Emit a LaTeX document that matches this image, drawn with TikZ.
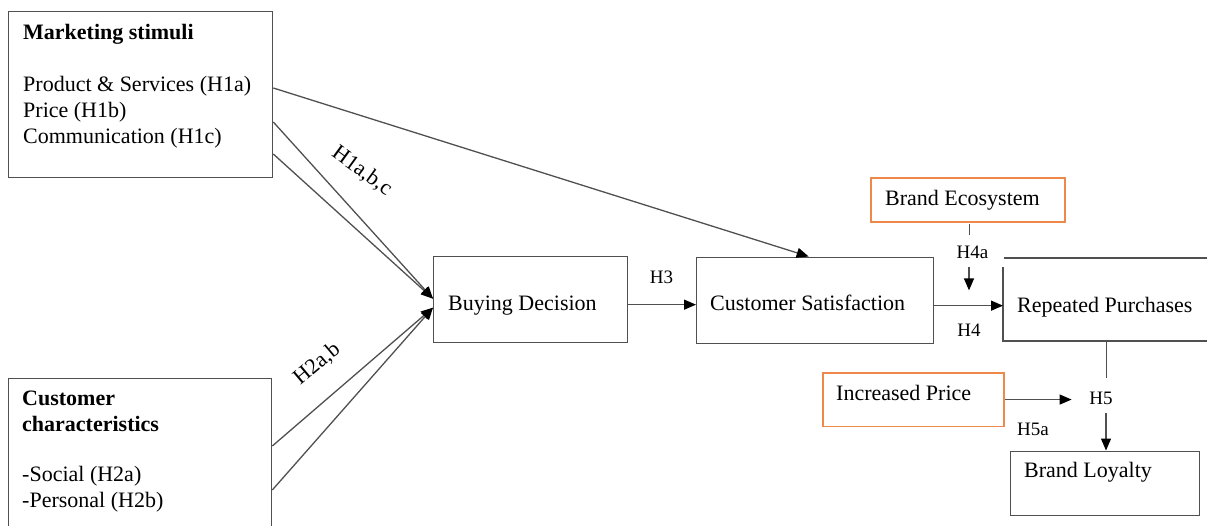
\documentclass[tikz,border=0pt]{standalone}
\usepackage{fontspec}
\setmainfont{Liberation Serif}
\usetikzlibrary{arrows.meta,calc}
\definecolor{edge}{RGB}{80,80,80}
\definecolor{hl}{RGB}{237,137,74}
\begin{document}
\begin{tikzpicture}[x=1pt,y=-1pt,
  box/.style={draw=edge, line width=1.3pt, rectangle, inner sep=0pt, anchor=north west},
  obox/.style={box, draw=hl, line width=1.6pt},
  txt/.style={inner sep=0pt, anchor=base west, font=\fontsize{22}{26}\selectfont, align=left},
  hyp/.style={inner sep=0pt, anchor=base, font=\fontsize{19}{22}\selectfont},
  rot/.style={inner sep=0pt, anchor=center, font=\fontsize{22}{26}\selectfont},
  conn/.style={draw=edge, line width=1.3pt},
  arr/.style={conn, -{Triangle[length=12pt,width=10pt,color=black]}},
]
\useasboundingbox (0,0) rectangle (1207,525);

% boxes
\node[box, minimum width=264pt, minimum height=166pt] (ms) at (8,11) {};
\node[box, minimum width=263pt, minimum height=170pt] (cc) at (8,378) {};
\node[box, minimum width=194pt, minimum height=86pt] (bd) at (433,256) {};
\node[box, minimum width=237pt, minimum height=86pt] (cs) at (696,256.5) {};
\node[inner sep=0pt, minimum width=210pt, minimum height=82.5pt, anchor=north west] (rp) at (1003,258) {};
\node[obox, minimum width=194pt, minimum height=44pt] (be) at (870,177) {};
\node[obox, minimum width=181pt, minimum height=53.5pt] (ip) at (822,372) {};
\node[box, minimum width=189pt, minimum height=64.5pt] (bl) at (1010,450.5) {};

% the open outline of the repeated purchases box
\draw[conn] ($(rp.north west)+(1,0)$) -- (rp.north east);
\draw[conn] ($(rp.north west)+(0,9)$) -- (rp.south west) -- (rp.south east);

% box texts (multi-line nodes are placed by the baseline of their last line)
\node[txt] (mst) at (23,143) {\textbf{Marketing stimuli}\\[26pt]Product \& Services (H1a)\\Price (H1b)\\Communication (H1c)};
\node[txt] (cct) at (22,507) {\textbf{Customer}\\\textbf{characteristics}\\[24pt]-Social (H2a)\\-Personal (H2b)};
\node[txt] (bdt) at (448,310) {Buying Decision};
\node[txt] (cst) at (710,310) {Customer Satisfaction};
\node[txt] (rpt) at (1017,312.5) {Repeated Purchases};
\node[txt] (bet) at (885,205) {Brand Ecosystem};
\node[txt] (ipt) at (836,400.5) {Increased Price};
\node[txt] (blt) at (1024,477) {Brand Loyalty};

% hypothesis labels
\node[hyp] (h3) at (661.5,283) {H3};
\node[hyp] (h4a) at (972.5,258) {H4a};
\node[hyp] (h4) at (969,336.5) {H4};
\node[hyp] (h5) at (1101,404) {H5};
\node[hyp] (h5a) at (1033,435) {H5a};
\node[rot, rotate=-36] (h1) at (362,171) {H1a,b,c};
\node[rot, rotate=40] (h2) at (317,364) {H2a,b};

% connectors
\draw[arr] ($(ms.north east)+(0,77)$) -- ($(cs.north)+(-6.5,0)$);
\draw[arr] ($(ms.north east)+(0,111)$) -- ($(bd.west)+(0,-1)$);
\draw[arr] ($(ms.north east)+(0,143)$) -- ($(bd.west)+(0,-1)$);
\draw[arr] ($(cc.north east)+(0,68)$) -- ($(bd.west)+(0,8)$);
\draw[arr] ($(cc.north east)+(0,112)$) -- ($(bd.west)+(0,8)$);
\draw[arr] ($(bd.east)+(0,5)$) coordinate (p3) -- (p3 -| cs.west);
\draw[arr] ($(cs.east)+(0,5.5)$) coordinate (p4) -- (p4 -| rp.west);
\draw[conn] ($(be.south)+(2,1)$) -- ++(0,11);
\draw[arr] ($(h4a.south)+(-3.5,9)$) -- ++(0,23);
\draw[conn] ($(rp.south)+(-2,0)$) -- ++(0,37);
\draw[arr] ($(h5.south)+(5,9)$) coordinate (p5) -- (p5 |- bl.north);
\draw[arr] (ip.east) -- ++(67,0);
\end{tikzpicture}
\end{document}
